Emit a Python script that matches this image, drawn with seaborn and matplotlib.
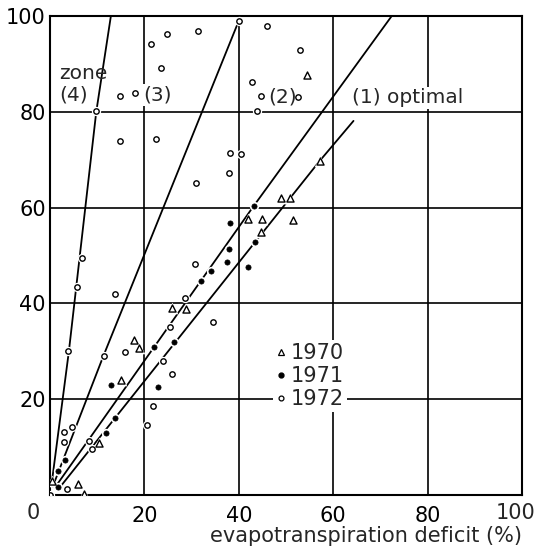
import matplotlib
matplotlib.use("Agg")
import matplotlib.pyplot as plt
from matplotlib.lines import Line2D
import seaborn as sns

# 1970 observations (open triangles)
x1970 = [0.4, 5.9, 7.1, 10.4, 15.0, 17.9, 18.9, 25.8, 28.8, 42.0, 44.9, 44.6,
         51.4, 48.9, 50.8, 57.1, 54.4]
y1970 = [2.9, 2.4, 0.3, 10.9, 24.0, 32.4, 30.6, 39.0, 38.8, 57.6, 57.6, 55.0,
         57.4, 61.9, 61.9, 69.7, 87.7]

# 1971 observations (filled dots)
x1971 = [1.8, 1.6, 3.2, 11.8, 13.8, 13.0, 22.9, 22.0, 26.3, 31.9, 34.2, 37.4,
         42.0, 38.0, 43.5, 38.1, 43.2]
y1971 = [1.6, 5.0, 7.3, 12.9, 16.0, 22.9, 22.6, 30.9, 31.9, 44.6, 46.8, 48.7,
         47.6, 51.4, 52.9, 56.8, 60.4]

# 1972 observations (open circles)
x1972 = [0.0, 3.5, 3.0, 3.0, 4.6, 8.3, 8.9, 3.9, 5.8, 6.8, 9.8, 11.4, 13.8,
         15.9, 14.9, 18.0, 14.8, 22.5, 20.5, 21.8, 24.0, 25.9, 25.4, 28.6,
         34.5, 30.8, 31.0, 37.9, 38.1, 40.4, 21.4, 23.5, 24.7, 31.4, 40.0,
         46.0, 42.7, 44.6, 43.9, 52.6, 53.0]
y1972 = [0.0, 1.2, 11.0, 13.1, 14.3, 11.3, 9.7, 30.1, 43.4, 49.5, 80.2, 29.1,
         42.0, 29.9, 83.4, 83.9, 74.0, 74.3, 14.6, 18.6, 28.0, 25.2, 35.1,
         41.2, 36.1, 48.2, 65.1, 67.2, 71.4, 71.1, 94.1, 89.2, 96.3, 96.9,
         99.0, 98.0, 86.2, 83.2, 80.2, 83.0, 93.0]

# zone boundary lines
zone4_x = [0.3, 4.0, 9.8, 12.9]
zone4_y = [2.0, 30.0, 80.0, 100.0]
zone3_x = [0.6, 11.3, 40.0]
zone3_y = [1.8, 29.0, 99.0]
zone2_x = [1.0, 43.2, 72.4]
zone2_y = [1.5, 60.4, 100.0]
zone1_x = [1.6, 57.1, 64.3]
zone1_y = [1.0, 69.7, 78.1]

ticks = [20, 40, 60, 80, 100]
xtick_labels = ["20", "40", "60", "80", ""]

sns.set_theme(style="white")
plt.rcParams["font.family"] = ["DejaVu Sans"]

fig = plt.figure(figsize=(5.37, 5.50), dpi=100)
ax = fig.add_axes([50 / 537, 1 - 495 / 550, 472 / 537, 479 / 550])

# zone lines
for lx, ly in [(zone4_x, zone4_y), (zone3_x, zone3_y),
               (zone2_x, zone2_y), (zone1_x, zone1_y)]:
    sns.lineplot(x=lx, y=ly, sort=False, estimator=None, color="black",
                 lw=1.3, ax=ax, zorder=2)

# white halos so lines break around the markers
sns.scatterplot(x=x1970, y=y1970, marker="^", s=70, color="white",
                linewidth=0, ax=ax, zorder=3)
sns.scatterplot(x=x1971, y=y1971, marker="o", s=45, color="white",
                linewidth=0, ax=ax, zorder=3)
sns.scatterplot(x=x1972, y=y1972, marker="o", s=45, color="white",
                linewidth=0, ax=ax, zorder=3)

# the points
sns.scatterplot(x=x1970, y=y1970, marker="^", s=26, facecolor="white",
                edgecolor="black", linewidth=1.0, ax=ax, zorder=4)
sns.scatterplot(x=x1971, y=y1971, marker="o", s=14, facecolor="black",
                edgecolor="black", linewidth=0.5, ax=ax, zorder=4)
sns.scatterplot(x=x1972, y=y1972, marker="o", s=15, facecolor="white",
                edgecolor="black", linewidth=1.0, ax=ax, zorder=4)

ax.set_xlim(0, 100)
ax.set_ylim(0, 100)
ax.set_xticks(ticks)
ax.set_xticklabels(xtick_labels)
ax.set_yticks(ticks)
ax.tick_params(length=0, labelsize=15, colors="black")
ax.tick_params(axis="x", pad=8)
ax.tick_params(axis="y", pad=3)
ax.grid(True, color="black", lw=1.2)
ax.set_axisbelow(True)
for sp in ax.spines.values():
    sp.set_color("black")
    sp.set_linewidth(1.5)
ax.set_xlabel("")
ax.set_ylabel("")

# shared origin label and the last x label, kept inside the picture
ax.text(-3.6, -3.8, "0", fontsize=15, ha="center", va="center",
        clip_on=False)
ax.text(102.9, -3.8, "100", fontsize=15, ha="right", va="center",
        clip_on=False)

# zone labels
white = dict(facecolor="white", edgecolor="none", pad=1)
ax.text(1.9, 87.9, "zone", fontsize=14.5, ha="left", va="center", zorder=5)
ax.text(1.9, 83.5, "(4)", fontsize=14.5, ha="left", va="center", zorder=5)
ax.text(19.8, 83.5, "(3)", fontsize=14.5, ha="left", va="center",
        bbox=white, zorder=5)
ax.text(46.2, 83.0, "(2)", fontsize=14.5, ha="left", va="center", zorder=5)
ax.text(64.0, 82.9, "(1) optimal", fontsize=14.5, ha="left", va="center",
        bbox=white, zorder=5)

fig.text(522 / 537, 1 - 542 / 550, "evapotranspiration deficit (%)",
         fontsize=15, ha="right", va="baseline")

handles = [
    Line2D([], [], ls="", marker="^", ms=4, mfc="white", mec="black", mew=0.9),
    Line2D([], [], ls="", marker="o", ms=3.5, mfc="black", mec="black"),
    Line2D([], [], ls="", marker="o", ms=3.5, mfc="white", mec="black", mew=0.9),
]
leg = ax.legend(handles, ["1970", "1971", "1972"], loc="center",
                bbox_to_anchor=(55, 24.8), bbox_transform=ax.transData,
                fontsize=15, handlelength=0.5, handletextpad=0.2,
                labelspacing=0.15, borderpad=0.15, borderaxespad=0,
                frameon=True, framealpha=1, facecolor="white",
                edgecolor="none", fancybox=False)
leg.set_zorder(6)

fig.savefig("out.png", dpi=100, facecolor="white")
